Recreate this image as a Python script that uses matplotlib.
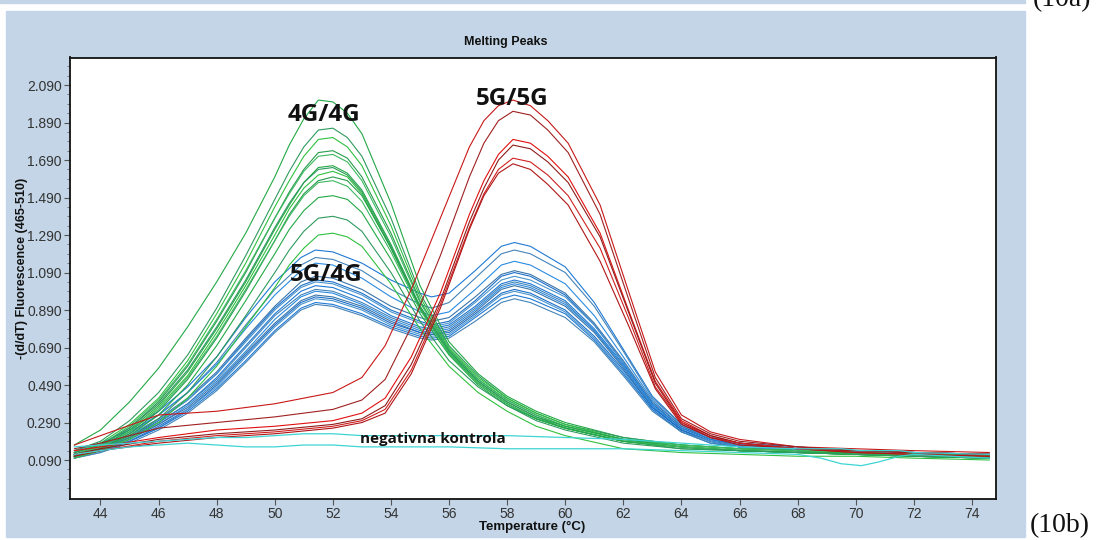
import numpy as np
import matplotlib.pyplot as plt
from matplotlib.patches import Rectangle
from matplotlib.ticker import FixedLocator

# melting peak curves
# x = temperature (deg C), y = -(d/dT) fluorescence

t_green = [43.1, 44, 45, 46, 47, 48, 49, 50, 50.5, 51, 51.5, 52, 52.5, 53,
           54, 55, 56, 57, 58, 59, 60, 62, 64, 66, 68, 70, 72, 74.6]
green_curves = [
    [.17, .25, .40, .58, .80, 1.04, 1.30, 1.60, 1.77, 1.91, 2.01, 2.00, 1.94, 1.83, 1.46, 1.02, .72, .55, .43, .35, .29, .21, .17, .15, .14, .13, .12, .11],
    [.14, .19, .30, .45, .65, .90, 1.18, 1.48, 1.63, 1.76, 1.85, 1.86, 1.81, 1.71, 1.38, .98, .70, .54, .42, .34, .28, .21, .17, .15, .14, .13, .12, .12],
    [.13, .18, .28, .42, .62, .87, 1.14, 1.44, 1.58, 1.71, 1.80, 1.81, 1.76, 1.66, 1.34, .96, .69, .53, .42, .34, .28, .20, .17, .15, .14, .13, .12, .11],
    [.13, .17, .26, .40, .59, .83, 1.09, 1.38, 1.52, 1.64, 1.73, 1.74, 1.70, 1.60, 1.30, .94, .68, .52, .41, .33, .27, .20, .16, .14, .13, .12, .12, .11],
    [.12, .17, .27, .41, .60, .84, 1.10, 1.38, 1.51, 1.63, 1.71, 1.72, 1.68, 1.58, 1.28, .93, .68, .52, .41, .33, .27, .20, .17, .15, .14, .13, .12, .11],
    [.12, .16, .25, .38, .56, .79, 1.04, 1.32, 1.45, 1.57, 1.65, 1.66, 1.62, 1.53, 1.24, .91, .67, .51, .40, .32, .27, .20, .16, .14, .13, .13, .12, .11],
    [.13, .17, .26, .39, .57, .80, 1.05, 1.33, 1.46, 1.57, 1.64, 1.65, 1.61, 1.52, 1.23, .91, .67, .51, .40, .32, .26, .19, .16, .14, .13, .12, .11, .10],
    [.12, .16, .24, .37, .54, .77, 1.02, 1.29, 1.43, 1.54, 1.61, 1.63, 1.60, 1.51, 1.22, .90, .66, .50, .39, .31, .26, .19, .16, .14, .13, .12, .11, .10],
    [.11, .15, .23, .35, .52, .74, .99, 1.26, 1.40, 1.51, 1.58, 1.60, 1.58, 1.50, 1.22, .90, .66, .50, .39, .31, .26, .19, .16, .14, .13, .12, .11, .10],
    [.12, .16, .24, .36, .53, .75, 1.00, 1.26, 1.39, 1.50, 1.57, 1.58, 1.55, 1.47, 1.20, .89, .66, .50, .39, .31, .26, .19, .16, .14, .13, .12, .12, .11],
    [.11, .15, .22, .33, .49, .70, .94, 1.19, 1.32, 1.42, 1.49, 1.50, 1.48, 1.41, 1.16, .87, .65, .49, .38, .31, .26, .19, .15, .14, .13, .12, .11, .10],
    [.11, .14, .21, .31, .45, .64, .86, 1.09, 1.21, 1.31, 1.38, 1.39, 1.37, 1.31, 1.09, .83, .62, .48, .38, .30, .25, .18, .15, .14, .13, .12, .11, .10],
    [.10, .14, .20, .29, .42, .59, .80, 1.01, 1.13, 1.22, 1.29, 1.30, 1.28, 1.23, 1.03, .79, .59, .45, .35, .27, .22, .15, .13, .12, .11, .11, .10, .09],
]

t_red = [43.1, 44, 46, 48, 50, 52, 53, 53.8, 54.7, 55.7, 56.7, 57.2, 57.7, 58.2,
         58.8, 59.4, 60.1, 61.2, 62.2, 63.1, 64.0, 65.0, 66, 68, 70, 72, 74.6]
red_curves = [
    [.17, .22, .33, .35, .39, .45, .53, .70, 1.00, 1.38, 1.76, 1.90, 1.98, 2.01, 1.98, 1.90, 1.78, 1.45, .98, .56, .33, .24, .20, .16, .15, .14, .13],
    [.15, .18, .26, .29, .32, .36, .41, .52, .80, 1.18, 1.60, 1.78, 1.90, 1.95, 1.93, 1.85, 1.73, 1.40, .94, .53, .31, .23, .19, .16, .14, .13, .12],
    [.14, .16, .21, .25, .27, .30, .34, .42, .64, .98, 1.40, 1.58, 1.72, 1.80, 1.78, 1.71, 1.60, 1.30, .88, .51, .30, .22, .18, .15, .14, .13, .12],
    [.12, .15, .20, .23, .25, .28, .31, .38, .60, .94, 1.36, 1.54, 1.69, 1.77, 1.75, 1.68, 1.57, 1.28, .87, .50, .29, .22, .18, .15, .14, .13, .12],
    [.12, .14, .19, .22, .24, .27, .30, .36, .57, .92, 1.33, 1.51, 1.64, 1.70, 1.68, 1.61, 1.50, 1.22, .84, .48, .29, .21, .18, .15, .13, .12, .11],
    [.11, .14, .18, .21, .23, .26, .29, .34, .55, .90, 1.32, 1.50, 1.62, 1.67, 1.64, 1.56, 1.45, 1.15, .80, .47, .28, .21, .17, .15, .13, .12, .11],
]

t_blue = [43.1, 44, 45, 46, 47, 48, 49, 50, 50.9, 51.4, 52, 53, 54, 55, 55.4, 56,
          56.9, 57.8, 58.25, 58.8, 60, 61, 62, 63, 64, 65, 66, 68, 70, 72, 74.6]
blue_curves = [
    [.14, .18, .25, .35, .48, .64, .85, 1.04, 1.17, 1.21, 1.20, 1.14, 1.05, .98, .96, .98, 1.10, 1.23, 1.25, 1.23, 1.12, .93, .68, .43, .28, .21, .18, .16, .14, .13, .12],
    [.12, .16, .23, .33, .45, .61, .81, 1.00, 1.13, 1.17, 1.16, 1.10, 1.00, .92, .90, .93, 1.06, 1.19, 1.21, 1.19, 1.09, .91, .67, .42, .28, .21, .18, .15, .14, .13, .12],
    [.13, .17, .24, .33, .45, .60, .79, .97, 1.10, 1.14, 1.13, 1.06, .96, .88, .86, .88, 1.00, 1.13, 1.15, 1.13, 1.03, .86, .64, .41, .27, .21, .18, .15, .14, .13, .12],
    [.12, .16, .22, .31, .42, .56, .74, .91, 1.04, 1.07, 1.06, 1.00, .91, .85, .83, .85, .96, 1.08, 1.10, 1.08, .98, .82, .62, .40, .27, .20, .17, .15, .13, .12, .11],
    [.11, .15, .21, .30, .41, .55, .73, .90, 1.02, 1.05, 1.04, .98, .89, .83, .81, .83, .94, 1.07, 1.09, 1.07, .97, .81, .61, .39, .26, .20, .17, .15, .13, .12, .11],
    [.12, .16, .22, .31, .41, .55, .72, .89, 1.01, 1.04, 1.03, .97, .88, .82, .80, .82, .93, 1.05, 1.07, 1.05, .96, .81, .61, .39, .26, .20, .17, .15, .14, .13, .12],
    [.11, .15, .21, .29, .39, .53, .70, .87, .99, 1.02, 1.01, .95, .86, .80, .79, .81, .91, 1.03, 1.05, 1.03, .94, .79, .60, .39, .26, .20, .17, .15, .13, .12, .11],
    [.12, .15, .21, .29, .39, .52, .69, .86, .97, 1.00, .99, .93, .85, .79, .78, .80, .90, 1.02, 1.04, 1.02, .93, .78, .59, .38, .25, .19, .17, .15, .14, .13, .12],
    [.11, .14, .20, .28, .38, .51, .67, .84, .96, .99, .98, .92, .84, .78, .77, .79, .89, 1.01, 1.03, 1.01, .92, .78, .59, .38, .25, .19, .16, .14, .13, .12, .11],
    [.10, .14, .20, .28, .37, .50, .66, .82, .94, .97, .96, .91, .83, .77, .76, .78, .88, 1.00, 1.02, 1.00, .91, .77, .58, .37, .25, .19, .16, .14, .13, .12, .11],
    [.11, .14, .19, .27, .36, .49, .65, .81, .93, .96, .95, .90, .82, .77, .76, .77, .87, .98, 1.00, .98, .89, .75, .57, .37, .25, .19, .16, .14, .13, .12, .11],
    [.10, .13, .19, .26, .36, .48, .64, .80, .92, .95, .94, .89, .81, .76, .75, .76, .86, .97, .99, .97, .88, .74, .56, .36, .24, .19, .16, .14, .12, .11, .10],
    [.11, .14, .19, .26, .35, .47, .62, .78, .90, .93, .92, .87, .80, .75, .74, .75, .85, .95, .97, .95, .87, .73, .55, .36, .24, .18, .16, .14, .13, .12, .11],
    [.10, .13, .18, .25, .34, .46, .61, .77, .89, .92, .91, .86, .79, .74, .73, .74, .83, .93, .95, .93, .85, .72, .54, .35, .24, .18, .16, .14, .12, .11, .10],
]

t_neg = [43.1, 44, 45, 46, 47, 48, 49, 50, 51, 52, 53, 54, 56, 58, 60, 62, 64,
         66, 68, 68.8, 69.5, 70.2, 70.8, 71.5, 72, 74.6]
neg_curves = [
    [.16, .17, .18, .19, .20, .21, .21, .22, .23, .23, .22, .22, .22, .22, .21, .20, .18, .16, .15, .15, .15, .14, .14, .14, .13, .12],
    [.12, .14, .16, .17, .18, .17, .16, .16, .17, .17, .16, .16, .16, .15, .15, .15, .14, .13, .12, .10, .07, .06, .08, .11, .12, .10],
]

y_ticks = [0.090, 0.290, 0.490, 0.690, 0.890, 1.090, 1.290, 1.490, 1.690, 1.890, 2.090]
x_ticks = [44, 46, 48, 50, 52, 54, 56, 58, 60, 62, 64, 66, 68, 70, 72, 74]

green_cols = ['#22a845', '#2e9a5e', '#30c040', '#279c4c', '#3cb860']
red_cols = ['#c81818', '#a02020', '#e01010', '#8e1c1c', '#d02020', '#b01515']
blue_cols = ['#1f7ad4', '#4383b8', '#2a8be0', '#3a74a8', '#1a6fc8', '#4a94cc']
neg_col = '#3ed4d4'

W, H = 1105, 540
fig = plt.figure(figsize=(W / 100, H / 100), dpi=100)
fig.patch.set_facecolor('white')

panel_col = '#c3d5e6'
# thin strip at the very top and the grey-blue panel behind the plot
fig.patches.append(Rectangle((0, 1 - 2.5 / H), 1025 / W, 2.5 / H,
                             transform=fig.transFigure, color=panel_col, zorder=-5))
fig.patches.append(Rectangle((6 / W, 3 / H), 1019 / W, 526 / H,
                             transform=fig.transFigure, color=panel_col, zorder=-5))

ax = fig.add_axes([70 / W, 41 / H, 926 / W, 441.5 / H])
ax.set_facecolor('white')

for i, c in enumerate(blue_curves):
    ax.plot(t_blue, c, color=blue_cols[i % len(blue_cols)], lw=0.8)
for i, c in enumerate(green_curves):
    ax.plot(t_green, c, color=green_cols[i % len(green_cols)], lw=0.8)
for i, c in enumerate(red_curves):
    ax.plot(t_red, c, color=red_cols[i % len(red_cols)], lw=0.8)
for c in neg_curves:
    ax.plot(t_neg, c, color=neg_col, lw=0.9)

ax.set_xlim(42.95, 74.83)
ax.set_ylim(-0.118, 2.237)
ax.set_yticks(y_ticks)
ax.set_yticklabels(['%.3f' % v for v in y_ticks])
ax.yaxis.set_minor_locator(FixedLocator(np.arange(-0.06, 2.2, 0.05)))
ax.set_xticks(x_ticks)
ax.set_xticklabels([str(v) for v in x_ticks])
ax.tick_params(which='major', length=4, width=0.8, color='#555555',
               labelsize=10, labelcolor='#333333', pad=2)
ax.tick_params(which='minor', length=2.5, width=0.7, color='#777777')
for lab in ax.get_xticklabels() + ax.get_yticklabels():
    lab.set_family('Liberation Sans')
for s in ax.spines.values():
    s.set_linewidth(1.3)
    s.set_color('#111111')

# annotations on the curves
ann = dict(family='Open Sans', fontweight='bold', color='#111111', ha='center', va='center')
ax.text(51.68, 1.93, '4G/4G', fontsize=17.5, **ann)
ax.text(58.18, 2.015, '5G/5G', fontsize=17.5, **ann)
ax.text(51.76, 1.077, '5G/4G', fontsize=17.5, **ann)
ax.text(55.45, 0.202, 'negativna kontrola', fontsize=11, **ann)

fig.text(506 / W, 1 - 42 / H, 'Melting Peaks', family='Liberation Sans',
         fontweight='bold', fontsize=9, ha='center', va='center', color='#111111')
fig.text(22 / W, 1 - 268 / H, '-(d/dT) Fluorescence (465-510)', family='Liberation Sans',
         fontweight='bold', fontsize=9, rotation=90, ha='center', va='center', color='#111111')
fig.text(532 / W, 1 - 527 / H, 'Temperature (°C)', family='Liberation Sans',
         fontweight='bold', fontsize=9.5, ha='center', va='center', color='#111111')

fig.text(1030 / W, 1 - 532 / H, '(10b)', family='Liberation Serif',
         fontsize=20, ha='left', va='baseline', color='#111111')
fig.text(1033 / W, 1 - 6 / H, '(10a)', family='Liberation Serif',
         fontsize=20, ha='left', va='baseline', color='#111111')

fig.savefig('out.png', dpi=100, facecolor='white')
